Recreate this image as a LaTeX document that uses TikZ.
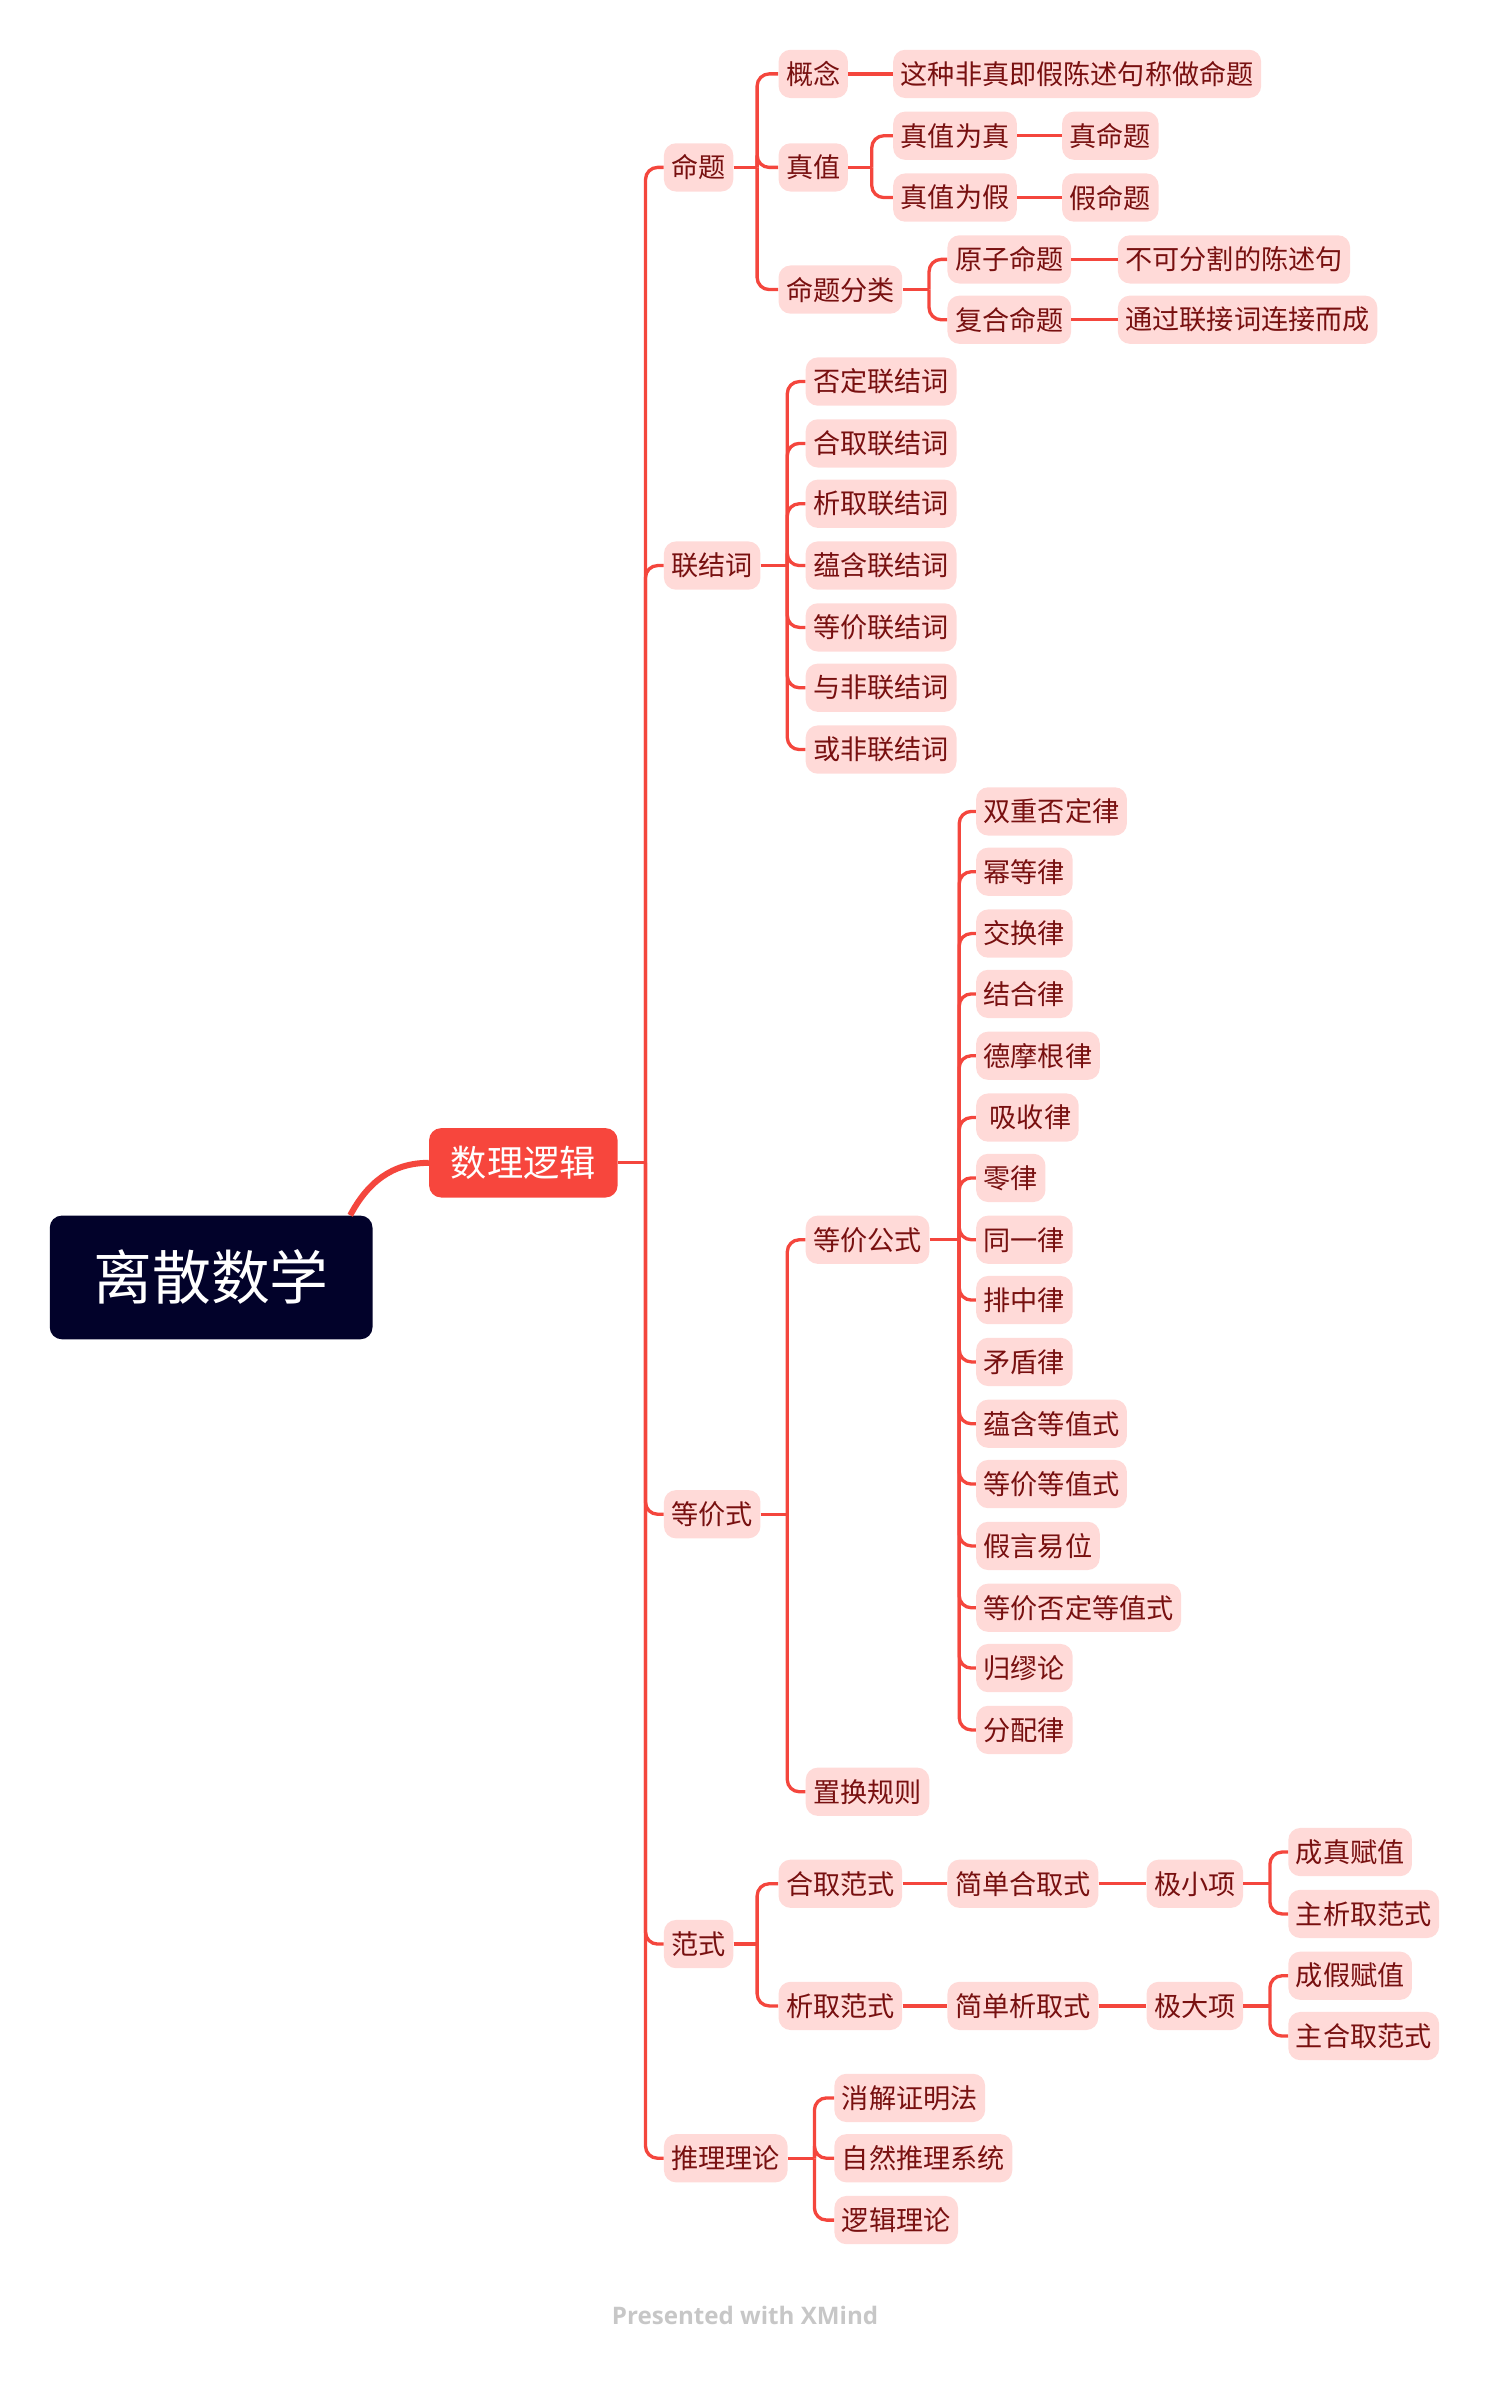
\documentclass[tikz,border=0pt]{standalone}
\usepackage{fontspec}
\newfontfamily\cjk{Noto Sans CJK SC}
\newfontfamily\creditfont{Open Sans}
\usetikzlibrary{calc}
\definecolor{linkred}{HTML}{F4463D}
\definecolor{leafpink}{HTML}{FFDAD8}
\definecolor{leaftext}{HTML}{781010}
\definecolor{rootnavy}{HTML}{02022A}
\definecolor{mainred}{HTML}{F7463D}
\tikzset{
  leaf/.style={anchor=west, fill=leafpink, text=leaftext, rounded corners=8pt,
    inner xsep=5pt, inner ysep=0pt, minimum height=32pt,
    font=\cjk\fontsize{18}{18}\selectfont},
  link/.style={draw=linkred, line width=2.2pt, rounded corners=8pt},
}
\begin{document}
\begin{tikzpicture}[x=1pt,y=-1pt]
  \useasboundingbox (0,0) rectangle (1000,1586);
  % centre
  \node[fill=rootnavy, text=white, rounded corners=8pt, minimum width=214pt,
    minimum height=82pt, font=\cjk\fontsize{39}{39}\selectfont] (root) at (140,847) {离散数学};
  \node[fill=mainred, text=white, rounded corners=8pt, minimum width=125pt,
    minimum height=46pt, font=\cjk\fontsize{24}{24}\selectfont] (logic) at (347,771) {数理逻辑};
  \coordinate (logic-j) at (428,771);
  % main branches
  \node[leaf] (mt) at (440,111) {命题};
  \node[leaf] (ljc) at (440,375) {联结词};
  \node[leaf] (djs) at (440,1004) {等价式};
  \node[leaf] (fs) at (440,1289) {范式};
  \node[leaf] (tl) at (440,1431) {推理理论};
  % mt
  \coordinate (mt-j) at (502,111);
  \node[leaf] (gn) at (516,49) {概念};
  \node[leaf] (zz) at (516,111) {真值};
  \node[leaf] (mtfl) at (516,192) {命题分类};
  \node[leaf] (gn-1) at (592,49) {这种非真即假陈述句称做命题};
  \coordinate (zz-j) at (578,111);
  \node[leaf] (zzwz) at (592,90) {真值为真};
  \node[leaf] (zzwj) at (592,131) {真值为假};
  \node[leaf] (zmt) at (704,90) {真命题};
  \node[leaf] (jmt) at (704,131) {假命题};
  \coordinate (mtfl-j) at (616,192);
  \node[leaf] (yzmt) at (628,172) {原子命题};
  \node[leaf] (fhmt) at (628,212) {复合命题};
  \node[leaf] (yzmt-1) at (741,172) {不可分割的陈述句};
  \node[leaf] (fhmt-1) at (741,212) {通过联接词连接而成};
  % ljc
  \coordinate (ljc-j) at (522,375);
  \node[leaf] (ljc-1) at (534,253) {否定联结词};
  \node[leaf] (ljc-2) at (534,294) {合取联结词};
  \node[leaf] (ljc-3) at (534,334) {析取联结词};
  \node[leaf] (ljc-4) at (534,375) {蕴含联结词};
  \node[leaf] (ljc-5) at (534,416) {等价联结词};
  \node[leaf] (ljc-6) at (534,456) {与非联结词};
  \node[leaf] (ljc-7) at (534,497) {或非联结词};
  % djs
  \coordinate (djs-j) at (522,1004);
  \node[leaf] (djgs) at (534,822) {等价公式};
  \node[leaf] (zhgz) at (534,1188) {置换规则};
  \coordinate (djgs-j) at (636,822);
  \node[leaf] (law-1) at (647,538) {双重否定律};
  \node[leaf] (law-2) at (647,578) {幂等律};
  \node[leaf] (law-3) at (647,619) {交换律};
  \node[leaf] (law-4) at (647,659) {结合律};
  \node[leaf] (law-5) at (647,700) {德摩根律};
  \node[leaf] (law-6) at (647,741) {~吸收律};
  \node[leaf] (law-7) at (647,781) {零律};
  \node[leaf] (law-8) at (647,822) {同一律};
  \node[leaf] (law-9) at (647,862) {排中律};
  \node[leaf] (law-10) at (647,903) {矛盾律};
  \node[leaf] (law-11) at (647,944) {蕴含等值式};
  \node[leaf] (law-12) at (647,984) {等价等值式};
  \node[leaf] (law-13) at (647,1025) {假言易位};
  \node[leaf] (law-14) at (647,1066) {等价否定等值式};
  \node[leaf] (law-15) at (647,1106) {归缪论};
  \node[leaf] (law-16) at (647,1147) {分配律};
  % fs
  \coordinate (fs-j) at (502,1289);
  \node[leaf] (hqfs) at (516,1249) {合取范式};
  \node[leaf] (xqfs) at (516,1330) {析取范式};
  \node[leaf] (jdhq) at (628,1249) {简单合取式};
  \node[leaf] (jxx) at (760,1249) {极小项};
  \coordinate (jxx-j) at (842,1249);
  \node[leaf] (czfz) at (854,1228) {成真赋值};
  \node[leaf] (zxqfs) at (854,1269) {主析取范式};
  \node[leaf] (jdxq) at (628,1330) {简单析取式};
  \node[leaf] (jdx) at (760,1330) {极大项};
  \coordinate (jdx-j) at (842,1330);
  \node[leaf] (cjfz) at (854,1310) {成假赋值};
  \node[leaf] (zhqfs) at (854,1350) {主合取范式};
  % tl
  \coordinate (tl-j) at (540,1431);
  \node[leaf] (xjzm) at (553,1391) {消解证明法};
  \node[leaf] (zrtl) at (553,1431) {自然推理系统};
  \node[leaf] (ljll) at (553,1472) {逻辑理论};
  \node[text=black!22, font=\creditfont\bfseries\fontsize{16}{16}\selectfont] (credit) at (494,1535) {Presented with XMind};

  \draw[link, line width=4pt] ([xshift=-15pt]root.north east) to[out=62,in=180] (logic.west);
  \begin{scope}[link]
    \draw (logic.east) -- (logic-j);
    \draw (logic-j) |- (mt.west);
    \draw (logic-j) |- (ljc.west);
    \draw (logic-j) |- (djs.west);
    \draw (logic-j) |- (fs.west);
    \draw (logic-j) |- (tl.west);
    \draw (mt.east) -- (mt-j);
    \draw (mt-j) |- (gn.west);
    \draw (mt-j) |- (zz.west);
    \draw (mt-j) |- (mtfl.west);
    \draw (gn.east) -- (gn-1.west);
    \draw (zz.east) -- (zz-j);
    \draw (zz-j) |- (zzwz.west);
    \draw (zz-j) |- (zzwj.west);
    \draw (zzwz.east) -- (zmt.west);
    \draw (zzwj.east) -- (jmt.west);
    \draw (mtfl.east) -- (mtfl-j);
    \draw (mtfl-j) |- (yzmt.west);
    \draw (mtfl-j) |- (fhmt.west);
    \draw (yzmt.east) -- (yzmt-1.west);
    \draw (fhmt.east) -- (fhmt-1.west);
    \draw (ljc.east) -- (ljc-j);
    \draw (ljc-j) |- (ljc-1.west);
    \draw (ljc-j) |- (ljc-2.west);
    \draw (ljc-j) |- (ljc-3.west);
    \draw (ljc-j) |- (ljc-4.west);
    \draw (ljc-j) |- (ljc-5.west);
    \draw (ljc-j) |- (ljc-6.west);
    \draw (ljc-j) |- (ljc-7.west);
    \draw (djs.east) -- (djs-j);
    \draw (djs-j) |- (djgs.west);
    \draw (djs-j) |- (zhgz.west);
    \draw (djgs.east) -- (djgs-j);
    \draw (djgs-j) |- (law-1.west);
    \draw (djgs-j) |- (law-2.west);
    \draw (djgs-j) |- (law-3.west);
    \draw (djgs-j) |- (law-4.west);
    \draw (djgs-j) |- (law-5.west);
    \draw (djgs-j) |- (law-6.west);
    \draw (djgs-j) |- (law-7.west);
    \draw (djgs-j) |- (law-8.west);
    \draw (djgs-j) |- (law-9.west);
    \draw (djgs-j) |- (law-10.west);
    \draw (djgs-j) |- (law-11.west);
    \draw (djgs-j) |- (law-12.west);
    \draw (djgs-j) |- (law-13.west);
    \draw (djgs-j) |- (law-14.west);
    \draw (djgs-j) |- (law-15.west);
    \draw (djgs-j) |- (law-16.west);
    \draw (fs.east) -- (fs-j);
    \draw (fs-j) |- (hqfs.west);
    \draw (fs-j) |- (xqfs.west);
    \draw (hqfs.east) -- (jdhq.west);
    \draw (jdhq.east) -- (jxx.west);
    \draw (jxx.east) -- (jxx-j);
    \draw (jxx-j) |- (czfz.west);
    \draw (jxx-j) |- (zxqfs.west);
    \draw (xqfs.east) -- (jdxq.west);
    \draw (jdxq.east) -- (jdx.west);
    \draw (jdx.east) -- (jdx-j);
    \draw (jdx-j) |- (cjfz.west);
    \draw (jdx-j) |- (zhqfs.west);
    \draw (tl.east) -- (tl-j);
    \draw (tl-j) |- (xjzm.west);
    \draw (tl-j) |- (zrtl.west);
    \draw (tl-j) |- (ljll.west);
  \end{scope}
\end{tikzpicture}
\end{document}
